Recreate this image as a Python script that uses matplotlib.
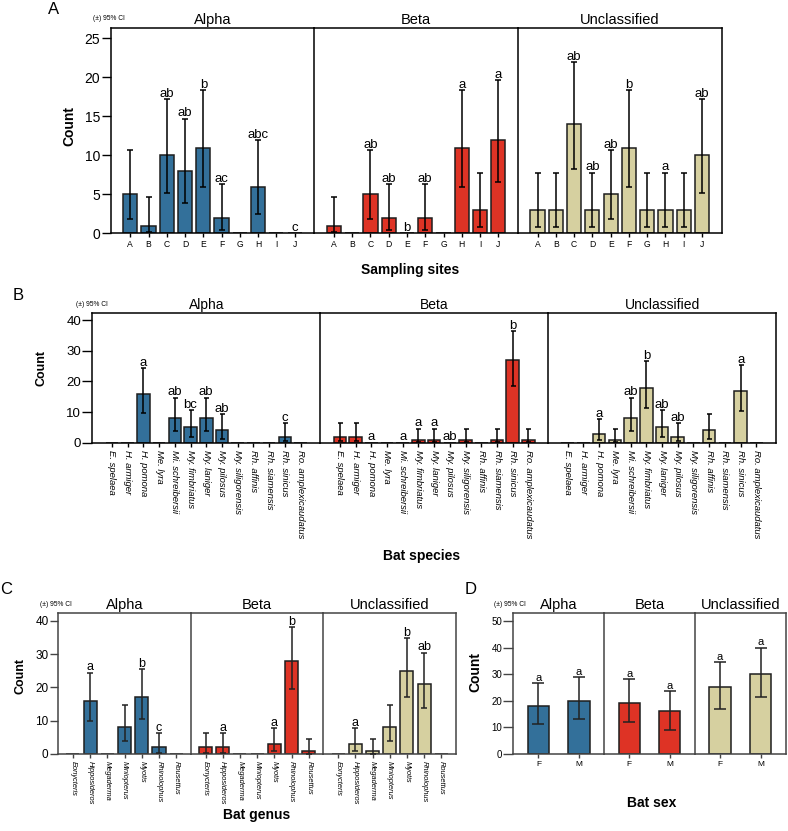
import numpy as np
import matplotlib
matplotlib.use("Agg")
import matplotlib.pyplot as plt

plt.rcParams['font.family'] = ['Liberation Sans', 'DejaVu Sans']

nan = np.nan
groups = ["Alpha", "Beta", "Unclassified"]
group_colors = ["#33709a", "#de3325", "#d6d0a0"]

# ---------------- Panel A : sampling sites ----------------
sites = ["A", "B", "C", "D", "E", "F", "G", "H", "I", "J"]
a_counts = [[5, 1, 10, 8, 11, 2, 0, 6, 0, 0],
            [1, 0, 5, 2, 0, 2, 0, 11, 3, 12],
            [3, 3, 14, 3, 5, 11, 3, 3, 3, 10]]
a_lo = [[1.85, 0.13, 5.2, 3.85, 5.95, 0.4, nan, 2.45, nan, nan],
        [0.13, nan, 1.85, 0.4, nan, 0.4, nan, 5.95, 0.8, 6.6],
        [0.8, 0.8, 8.2, 0.8, 1.85, 5.95, 0.8, 0.8, 0.8, 5.2]]
a_hi = [[10.65, 4.6, 17.2, 14.7, 18.4, 6.3, nan, 12.0, nan, nan],
        [4.6, nan, 10.65, 6.3, nan, 6.3, nan, 18.4, 7.8, 19.7],
        [7.8, 7.8, 22.0, 7.8, 10.65, 18.4, 7.8, 7.8, 7.8, 17.2]]
a_sig = [["", "", "ab", "ab", "b", "ac", "", "abc", "", "c"],
         ["", "", "ab", "ab", "b", "ab", "", "a", "", "a"],
         ["", "", "ab", "ab", "ab", "b", "", "a", "", "ab"]]

# ---------------- Panel B : bat species ----------------
species = ["E. spelaea", "H. armiger", "H. pomona", "Me. lyra", "Mi. schreibersii",
           "My. fimbriatus", "My. laniger", "My. pilosus", "My. siligorensis",
           "Rh. affinis", "Rh. siamensis", "Rh. sinicus", "Ro. amplexicaudatus"]
b_counts = [[0, 0, 16, 0, 8, 5, 8, 4, 0, 0, 0, 2, 0],
            [2, 2, 0, 0, 0, 1, 1, 0, 1, 0, 1, 27, 1],
            [0, 0, 3, 1, 8, 18, 5, 2, 0, 4, 0, 17, 0]]
b_lo = [[nan, nan, 9.6, nan, 3.85, 1.85, 3.85, 1.25, nan, nan, nan, 0.4, nan],
        [0.4, 0.4, nan, nan, nan, 0.13, 0.13, nan, 0.13, nan, 0.13, 18.6, 0.13],
        [nan, nan, 0.8, 0.13, 3.85, 11.2, 1.85, 0.4, nan, 1.25, nan, 10.4, nan]]
b_hi = [[nan, nan, 24.4, nan, 14.7, 10.65, 14.7, 9.4, nan, nan, nan, 6.3, nan],
        [6.3, 6.3, nan, nan, nan, 4.6, 4.6, nan, 4.6, nan, 4.6, 36.5, 4.6],
        [nan, nan, 7.8, 4.6, 14.7, 26.5, 10.65, 6.3, nan, 9.3, nan, 25.3, nan]]
b_sig = [["", "", "a", "", "ab", "bc", "ab", "ab", "", "", "", "c", ""],
         ["", "", "a", "", "a", "a", "a", "ab", "", "", "", "b", ""],
         ["", "", "a", "", "ab", "b", "ab", "ab", "", "", "", "a", ""]]

# ---------------- Panel C : bat genus ----------------
genera = ["Eonycteris", "Hipposideros", "Megaderma", "Miniopterus", "Myotis",
          "Rhinolophus", "Rousettus"]
c_counts = [[0, 16, 0, 8, 17, 2, 0],
            [2, 2, 0, 0, 3, 28, 1],
            [0, 3, 1, 8, 25, 21, 0]]
c_lo = [[nan, 9.8, nan, 3.85, 10.5, 0.4, nan],
        [0.4, 0.4, nan, nan, 0.8, 19.5, 0.13],
        [nan, 0.8, 0.13, 3.85, 17.2, 13.7, nan]]
c_hi = [[nan, 24.4, nan, 14.7, 25.5, 6.3, nan],
        [6.3, 6.3, nan, nan, 7.8, 38.0, 4.6],
        [nan, 7.8, 4.6, 14.7, 34.8, 30.4, nan]]
c_sig = [["", "a", "", "", "b", "c", ""],
         ["", "a", "", "", "a", "b", ""],
         ["", "a", "", "", "b", "ab", ""]]

# ---------------- Panel D : bat sex ----------------
sexes = ["F", "M"]
d_counts = [[18, 20], [19, 16], [25, 30]]
d_lo = [[11.3, 13.0], [12.0, 9.0], [17.0, 21.4]]
d_hi = [[26.7, 29.0], [28.0, 23.6], [34.6, 40.0]]
d_sig = [["a", "a"], ["a", "a"], ["a", "a"]]

W, H = 788, 831
fig = plt.figure(figsize=(W / 100, H / 100), dpi=100)


def rect_px(l, t, r, b):
    return [l / W, 1 - b / H, (r - l) / W, (b - t) / H]


def draw_panel(box, cats, counts, lo, hi, sig, ylim, yticks, xlim, barw, st):
    l, t, r, b = box
    sw = (r - l) / 3.0
    x = np.arange(len(cats))
    for g in range(3):
        ax = fig.add_axes(rect_px(l + g * sw, t, l + (g + 1) * sw, b))
        cnt = np.array(counts[g], dtype=float)
        lo_g = np.array(lo[g], dtype=float)
        hi_g = np.array(hi[g], dtype=float)
        ax.bar(x, cnt, barw, color=group_colors[g], edgecolor="#1e1e1e",
               linewidth=1.1, zorder=2)
        m = ~np.isnan(hi_g)
        ax.errorbar(x[m], cnt[m], yerr=[cnt[m] - lo_g[m], hi_g[m] - cnt[m]],
                    fmt="none", ecolor=st["ecol"], elinewidth=1.1,
                    capsize=st["cap"], capthick=1.1, zorder=3)
        for i, s in enumerate(sig[g]):
            if s:
                yv = hi_g[i] if not np.isnan(hi_g[i]) else 0.0
                ax.annotate(s, (x[i], yv), xytext=(0, 1.6), textcoords="offset points",
                            ha="center", va="baseline", fontsize=st["sigfs"])
        ax.set_xlim(*xlim)
        ax.set_ylim(*ylim)
        ax.set_xticks(x)
        if st["rot"]:
            ax.set_xticklabels(cats, rotation=270, fontsize=st["xfs"], style="italic",
                               va="top", ha="center")
        else:
            ax.set_xticklabels(cats, fontsize=st["xfs"])
        ax.tick_params(axis="x", length=3, width=1.0, pad=st["xpad"], color=st["spc"],
                       labelcolor="black")
        ax.set_yticks(yticks)
        if g == 0:
            ax.tick_params(axis="y", length=st["ylen"], width=1.0, labelsize=st["yfs"],
                           pad=1, color=st["spc"], labelcolor="black")
        else:
            ax.tick_params(axis="y", left=False, labelleft=False)
        for sp in ax.spines.values():
            sp.set_color(st["spc"])
            sp.set_linewidth(1.1)
        if g < 2:
            ax.spines["right"].set_visible(False)
        ax.set_title(groups[g], fontsize=st["tfs"], pad=3)
        ax.set_facecolor("none")


# Panel A
draw_panel((110.7, 28.3, 721.7, 233.3), sites, a_counts, a_lo, a_hi, a_sig,
           (0, 26.3), [0, 5, 10, 15, 20, 25], (-1.07, 10.08), 0.78,
           dict(ecol="black", cap=2.2, sigfs=9.5, rot=False, xfs=6.2, xpad=2,
                ylen=6.5, yfs=10, tfs=10.5, spc="black"))
# Panel B
draw_panel((92.3, 313.3, 776.0, 442.7), species, b_counts, b_lo, b_hi, b_sig,
           (0, 42.2), [0, 10, 20, 30, 40], (-1.25, 13.25), 0.8,
           dict(ecol="black", cap=1.8, sigfs=9.5, rot=True, xfs=6.8, xpad=2,
                ylen=7, yfs=9.5, tfs=10, spc="black"))
# Panel C
draw_panel((58.3, 612.7, 456.0, 754.0), genera, c_counts, c_lo, c_hi, c_sig,
           (0, 42.4), [0, 10, 20, 30, 40], (-0.85, 6.85), 0.76,
           dict(ecol="#222222", cap=2.4, sigfs=9, rot=True, xfs=5.4, xpad=2,
                ylen=6, yfs=8.5, tfs=10.5, spc="#444444"))
# Panel D
draw_panel((513.3, 613.3, 785.7, 753.7), sexes, d_counts, d_lo, d_hi, d_sig,
           (0, 52.9), [0, 10, 20, 30, 40, 50], (-0.62, 1.62), 0.52,
           dict(ecol="#222222", cap=4, sigfs=8, rot=False, xfs=6, xpad=2,
                ylen=7, yfs=7, tfs=10.5, spc="#444444"))


def ftxt(xp, yp, s, **kw):
    fig.text(xp / W, 1 - yp / H, s, **kw)


# panel letters
ftxt(48, 9, "A", fontsize=12, ha="left", va="center")
ftxt(13, 295, "B", fontsize=12, ha="left", va="center")
ftxt(0, 590, "C", fontsize=12, ha="left", va="center")
ftxt(465, 590, "D", fontsize=12, ha="left", va="center")

# CI notes
for (xp, yp) in [(93, 19), (76, 305), (40, 604), (494, 604)]:
    ftxt(xp, yp, "(±) 95% CI", fontsize=4.8, ha="left", va="center")

# Count labels
ftxt(69, 126.5, "Count", fontsize=10, fontweight="bold", rotation=90, ha="center", va="center")
ftxt(41.5, 368, "Count", fontsize=9, fontweight="bold", rotation=90, ha="center", va="center")
ftxt(21, 676, "Count", fontsize=9, fontweight="bold", rotation=90, ha="center", va="center")
ftxt(475, 672, "Count", fontsize=10, fontweight="bold", rotation=90, ha="center", va="center")

# axis titles
ftxt(410, 270, "Sampling sites", fontsize=10, fontweight="bold", ha="center", va="center")
ftxt(422, 556, "Bat species", fontsize=10, fontweight="bold", ha="center", va="center")
ftxt(257, 815, "Bat genus", fontsize=10, fontweight="bold", ha="center", va="center")
ftxt(652, 803, "Bat sex", fontsize=10, fontweight="bold", ha="center", va="center")

fig.savefig("out.png", dpi=100, facecolor="white")
